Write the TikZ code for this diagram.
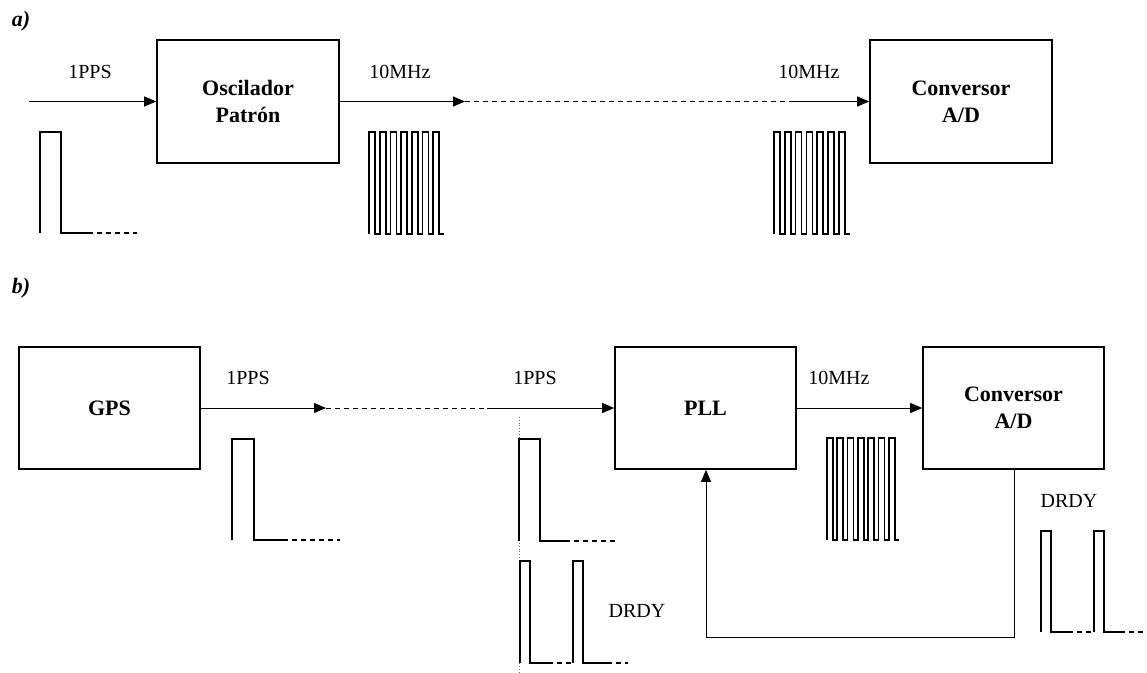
\documentclass[tikz,border=0pt]{standalone}
\usepackage{fontspec}
\setmainfont{Liberation Serif}
\usetikzlibrary{arrows.meta}
\begin{document}
\begin{tikzpicture}[x=1pt,y=-1pt,
  box/.style={draw,line width=1.6pt,align=center,inner sep=0pt,
    font=\bfseries\fontsize{22}{27}\selectfont},
  lbl/.style={inner sep=0pt,font=\fontsize{20}{24}\selectfont},
  tag/.style={inner sep=0pt,font=\bfseries\itshape\fontsize{22}{26}\selectfont},
  conn/.style={line width=1pt,-{Triangle[length=12pt,width=10pt]}},
  gap/.style={line width=1pt,dash pattern=on 5pt off 4pt},
  wave/.style={line width=1.7pt},
  tail/.style={line width=1.5pt,dash pattern=on 5pt off 4pt}]
\useasboundingbox (0,0) rectangle (1147,672);

% ---------- a) ----------
\node[tag] (ta) at (21,21) {a)};
\node[box,minimum width=182pt,minimum height=123pt] (osc) at (248,101.5) {Oscilador\\Patrón};
\node[box,minimum width=182pt,minimum height=123pt] (conva) at (961,101.5) {Conversor\\A/D};
\coordinate (ina) at (29,101.5);
\coordinate (ga1) at (465,101.5);
\coordinate (ga2) at (790,101.5);
\draw[conn] (ina) -- (osc.west);
\draw[conn] (osc.east) -- (ga1);
\draw[gap] (ga1) -- (ga2);
\draw[conn] (ga2) -- (conva.west);
\node[lbl] (la1) at (90,72) {1PPS};
\node[lbl] (la2) at (400,72) {10MHz};
\node[lbl] (la3) at (809,72) {10MHz};

% pulse a
\draw[wave] (40,233) -- (40,132) -- (61,132) -- (61,233) -- (88,233);
\draw[tail] (88,233) -- (137,233);
% square waves a
\draw[wave] (369,234) foreach \i in {1,...,7} { -- ++(0,-102) -- ++(6,0) -- ++(0,102) -- ++(4.7,0) };
\draw[wave] (774,234) foreach \i in {1,...,7} { -- ++(0,-102) -- ++(6,0) -- ++(0,102) -- ++(4.8,0) };

% ---------- b) ----------
\node[tag] (tb) at (21,288) {b)};
\node[box,minimum width=181pt,minimum height=122pt] (gps) at (109.5,408) {GPS};
\node[box,minimum width=181pt,minimum height=122pt] (pll) at (705.5,408) {PLL};
\node[box,minimum width=181pt,minimum height=122pt] (convb) at (1013.5,408) {Conversor\\A/D};
\coordinate (gb1) at (326,408);
\coordinate (gb2) at (487,408);
\draw[conn] (gps.east) -- (gb1);
\draw[gap] (gb1) -- (gb2);
\draw[conn] (gb2) -- (pll.west);
\draw[conn] (pll.east) -- (convb.west);
\coordinate (fb1) at (1014,637);
\coordinate (fb2) at (706,637);
\draw[conn] (convb.south -| fb1) -- (fb1) -- (fb2) -- (pll.south -| fb2);
\node[lbl] (lb1) at (248,378) {1PPS};
\node[lbl] (lb2) at (535,378) {1PPS};
\node[lbl] (lb3) at (839,378) {10MHz};
\node[lbl] (lb4) at (637,611) {DRDY};
\node[lbl] (lb5) at (1069,501) {DRDY};

% dotted reference line
\draw[line width=0.8pt,dotted,black!60] (519,417) -- (519,672);

% GPS pulse
\draw[wave] (232,540) -- (232,439) -- (254,439) -- (254,540) -- (283,540);
\draw[tail] (283,540) -- (340,540);
% 1PPS pulse at PLL
\draw[wave] (519,541) -- (519,439) -- (540,439) -- (540,541) -- (565,541);
\draw[tail] (565,541) -- (616,541);
% DRDY middle
\draw[wave] (520,663) -- (520,561) -- (530,561) -- (530,663) -- (548,663);
\draw[tail] (548,663) -- (573,663);
\draw[wave] (573,663) -- (573,561) -- (583,561) -- (583,663) -- (607,663);
\draw[tail] (607,663) -- (628,663);
% square wave b
\draw[wave] (827,540) foreach \i in {1,...,7} { -- ++(0,-102) -- ++(6,0) -- ++(0,102) -- ++(4.3,0) };
% DRDY right
\draw[wave] (1041,632) -- (1041,531) -- (1051,531) -- (1051,632) -- (1068,632);
\draw[tail] (1068,632) -- (1094,632);
\draw[wave] (1094,632) -- (1094,531) -- (1104,531) -- (1104,632) -- (1120,632);
\draw[tail] (1120,632) -- (1147,632);
\end{tikzpicture}
\end{document}
